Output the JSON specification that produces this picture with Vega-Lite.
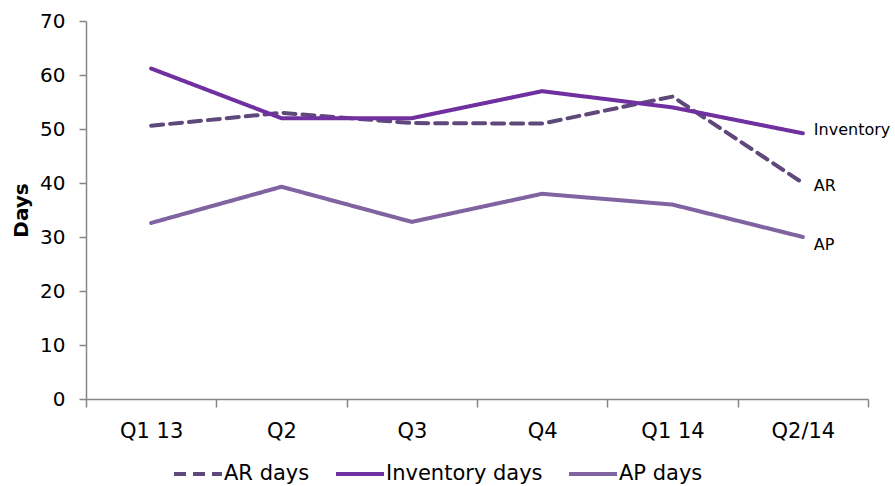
{
  "$schema": "https://vega.github.io/schema/vega-lite/v6.json",
  "width": 782,
  "height": 378,
  "autosize": {"type": "none"},
  "padding": {"left": 86, "top": 21, "right": 27, "bottom": 87},
  "background": "white",
  "config": {
    "view": {"stroke": null},
    "font": "DejaVu Sans",
    "axis": {
      "grid": false,
      "domainColor": "#868686",
      "tickColor": "#868686",
      "labelColor": "#000000",
      "labelFont": "DejaVu Sans",
      "labelFontSize": 20,
      "domainWidth": 1.5,
      "tickWidth": 1.5
    }
  },
  "datasets": {
    "days": [
      {"quarter": "Q1 13", "series": "AR days", "label": "AR", "days": 50.6},
      {"quarter": "Q2", "series": "AR days", "label": "AR", "days": 53.0},
      {"quarter": "Q3", "series": "AR days", "label": "AR", "days": 51.1},
      {"quarter": "Q4", "series": "AR days", "label": "AR", "days": 51.0},
      {"quarter": "Q1 14", "series": "AR days", "label": "AR", "days": 56.0},
      {"quarter": "Q2/14", "series": "AR days", "label": "AR", "days": 40.0},
      {"quarter": "Q1 13", "series": "Inventory days", "label": "Inventory", "days": 61.2},
      {"quarter": "Q2", "series": "Inventory days", "label": "Inventory", "days": 52.0},
      {"quarter": "Q3", "series": "Inventory days", "label": "Inventory", "days": 52.0},
      {"quarter": "Q4", "series": "Inventory days", "label": "Inventory", "days": 57.0},
      {"quarter": "Q1 14", "series": "Inventory days", "label": "Inventory", "days": 54.0},
      {"quarter": "Q2/14", "series": "Inventory days", "label": "Inventory", "days": 49.2},
      {"quarter": "Q1 13", "series": "AP days", "label": "AP", "days": 32.6},
      {"quarter": "Q2", "series": "AP days", "label": "AP", "days": 39.3},
      {"quarter": "Q3", "series": "AP days", "label": "AP", "days": 32.8},
      {"quarter": "Q4", "series": "AP days", "label": "AP", "days": 38.0},
      {"quarter": "Q1 14", "series": "AP days", "label": "AP", "days": 36.0},
      {"quarter": "Q2/14", "series": "AP days", "label": "AP", "days": 30.0}
    ]
  },
  "data": {"name": "days"},
  "encoding": {
    "x": {
      "field": "quarter",
      "type": "ordinal",
      "sort": ["Q1 13", "Q2", "Q3", "Q4", "Q1 14", "Q2/14"],
      "scale": {"type": "band", "paddingInner": 0, "paddingOuter": 0},
      "axis": {
        "title": null,
        "labelAngle": 0,
        "tickBand": "extent",
        "tickSize": 8,
        "labelPadding": 13,
        "labelFontSize": 21
      }
    },
    "y": {
      "field": "days",
      "type": "quantitative",
      "scale": {"domain": [0, 70], "nice": false, "zero": true},
      "axis": {
        "title": "Days",
        "titleFont": "DejaVu Sans",
        "titleFontSize": 20,
        "titleFontWeight": "bold",
        "titleColor": "#000000",
        "titlePadding": 8,
        "values": [0, 10, 20, 30, 40, 50, 60, 70],
        "tickSize": 7,
        "labelPadding": 14
      }
    }
  },
  "layer": [
    {
      "mark": {"type": "line", "strokeWidth": 4, "strokeCap": "round", "strokeJoin": "round"},
      "encoding": {
        "color": {
          "field": "series",
          "type": "nominal",
          "scale": {
            "domain": ["AR days", "Inventory days", "AP days"],
            "range": ["#5F497A", "#7030A0", "#8064A2"]
          },
          "legend": {
            "title": null,
            "orient": "none",
            "legendX": 86,
            "legendY": 427,
            "direction": "horizontal",
            "gridAlign": "none",
            "symbolType": "stroke",
            "symbolSize": 2304,
            "symbolStrokeWidth": 4,
            "labelFont": "DejaVu Sans",
            "labelFontSize": 21,
            "labelColor": "#000000",
            "labelOffset": 0,
            "columnPadding": 18
          }
        },
        "strokeDash": {
          "field": "series",
          "type": "nominal",
          "scale": {
            "domain": ["AR days", "Inventory days", "AP days"],
            "range": [[12, 7], [1, 0], [1, 0]]
          },
          "legend": null
        }
      }
    },
    {
      "transform": [{"filter": "datum.quarter === 'Q2/14' && datum.label === 'Inventory'"}],
      "mark": {"type": "text", "align": "left", "baseline": "middle", "dx": 11, "dy": -3, "fontSize": 16, "font": "DejaVu Sans", "color": "#000000"},
      "encoding": {"text": {"field": "label"}}
    },
    {
      "transform": [{"filter": "datum.quarter === 'Q2/14' && datum.label === 'AR'"}],
      "mark": {"type": "text", "align": "left", "baseline": "middle", "dx": 11, "dy": 3, "fontSize": 16, "font": "DejaVu Sans", "color": "#000000"},
      "encoding": {"text": {"field": "label"}}
    },
    {
      "transform": [{"filter": "datum.quarter === 'Q2/14' && datum.label === 'AP'"}],
      "mark": {"type": "text", "align": "left", "baseline": "middle", "dx": 11, "dy": 8, "fontSize": 16, "font": "DejaVu Sans", "color": "#000000"},
      "encoding": {"text": {"field": "label"}}
    }
  ]
}
